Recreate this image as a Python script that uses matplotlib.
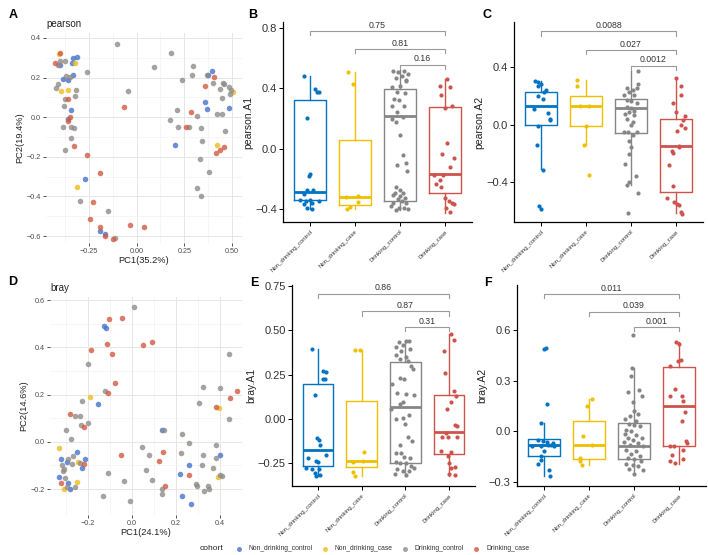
import matplotlib
matplotlib.use("Agg")
import matplotlib.pyplot as plt
from matplotlib.lines import Line2D
import numpy as np

plt.rcParams['font.family'] = ['Liberation Sans', 'DejaVu Sans']

groups = ["Non_drinking_control", "Non_drinking_case", "Drinking_control", "Drinking_case"]
box_colors = ['#0073C2', '#EFC000', '#868686', '#CD534C']
pt_colors = ['#4673CC', '#EFBC1F', '#8F8B89', '#D35A41']

# ---------------- PCoA pearson (panel A): (PC1, PC2) ----------------
A_pts = {
    "Non_drinking_control": [(-0.312, 0.306), (-0.333, 0.297), (-0.400, 0.264), (-0.338, 0.276), (-0.387, 0.195),
                             (-0.361, 0.189), (-0.334, 0.212), (-0.347, 0.035), (-0.361, -0.008), (-0.273, -0.312),
                             (-0.194, -0.574), (-0.167, -0.590), (0.396, 0.235), (0.373, 0.212), (0.359, 0.078),
                             (0.371, 0.043), (0.484, 0.048), (0.199, -0.139)],
    "Non_drinking_case": [(-0.408, 0.319), (-0.322, 0.276), (-0.396, 0.134), (-0.359, 0.135), (-0.313, -0.351),
                          (0.421, -0.140), (0.505, 0.129)],
    "Drinking_control": [(-0.102, 0.369), (0.180, 0.322), (0.092, 0.252), (0.296, 0.256), (0.238, 0.189),
                         (0.292, 0.212), (0.368, 0.212), (0.400, 0.172), (0.454, 0.172), (0.461, 0.169),
                         (0.484, 0.152), (0.436, 0.142), (0.496, 0.139), (0.489, 0.117), (0.449, 0.097),
                         (0.422, 0.017), (0.449, 0.017), (0.466, -0.070), (-0.400, 0.286), (-0.375, 0.284),
                         (-0.414, 0.264), (-0.370, 0.209), (-0.259, 0.230), (-0.414, 0.169), (-0.422, 0.147),
                         (-0.352, 0.202), (-0.317, 0.139), (-0.324, 0.107), (-0.378, 0.094), (-0.382, 0.058),
                         (-0.387, -0.048), (-0.347, -0.050), (-0.327, -0.057), (-0.347, -0.104), (-0.378, -0.167),
                         (-0.044, 0.130), (0.176, -0.012), (0.213, 0.038), (0.216, -0.050), (0.276, -0.050),
                         (0.317, 0.005), (0.340, -0.055), (0.341, -0.120), (0.334, -0.210), (0.378, -0.276),
                         (0.317, -0.356), (0.340, -0.399), (-0.299, -0.424), (-0.150, -0.474), (-0.114, -0.610)],
    "Drinking_case": [(-0.428, 0.276), (-0.401, 0.326), (0.405, 0.202), (0.361, 0.155), (-0.361, 0.092),
                      (-0.352, 0.002), (-0.361, -0.020), (-0.331, -0.145), (-0.260, -0.192), (-0.065, 0.052),
                      (-0.194, -0.282), (0.285, 0.028), (0.259, -0.047), (-0.227, -0.426), (-0.246, -0.513),
                      (-0.190, -0.556), (-0.167, -0.600), (-0.123, -0.616), (-0.035, -0.543), (0.039, -0.554),
                      (0.414, -0.182), (0.436, -0.167), (0.461, -0.150)],
}

# ---------------- PCoA bray (panel D) ----------------
D_pts = {
    "Non_drinking_control": [(-0.129, 0.492), (-0.117, 0.481), (-0.156, 0.161), (0.137, 0.052), (-0.322, -0.075),
                             (-0.296, -0.086), (-0.251, -0.044), (-0.213, -0.075), (-0.228, -0.113), (-0.289, -0.174),
                             (-0.281, -0.198), (-0.330, -0.150), (0.217, -0.135), (0.258, -0.100), (0.225, -0.230),
                             (0.266, -0.265), (0.399, -0.054)],
    "Non_drinking_case": [(-0.190, 0.189), (-0.330, -0.025), (-0.308, -0.199), (-0.251, -0.171), (-0.246, -0.085),
                          (0.395, 0.144), (0.390, -0.150)],
    "Drinking_control": [(0.011, 0.570), (-0.200, 0.330), (-0.125, 0.213), (-0.226, 0.171), (-0.258, 0.111),
                         (-0.236, 0.109), (-0.233, 0.073), (-0.200, 0.078), (-0.299, 0.049), (-0.278, 0.010),
                         (0.440, 0.373), (0.324, 0.233), (0.399, 0.227), (0.305, 0.165), (0.440, 0.095),
                         (0.144, 0.052), (0.228, 0.035), (0.258, -0.007), (0.046, -0.021), (0.076, -0.058),
                         (0.223, -0.047), (0.324, -0.055), (0.380, -0.014), (0.380, -0.068), (0.317, -0.100),
                         (0.369, -0.110), (0.064, -0.121), (0.091, -0.162), (-0.038, -0.165), (-0.109, -0.134),
                         (0.289, -0.178), (0.296, -0.188), (0.345, -0.188), (0.327, -0.209), (0.349, -0.199),
                         (0.137, -0.199), (0.134, -0.223), (-0.132, -0.230), (-0.008, -0.251), (0.399, -0.141),
                         (0.410, -0.145), (-0.319, -0.100), (-0.314, -0.124), (-0.292, -0.071), (-0.269, -0.061),
                         (-0.311, -0.114), (-0.307, -0.155), (-0.296, -0.192), (-0.261, -0.190), (-0.236, -0.089),
                         (-0.273, -0.092)],
    "Drinking_case": [(-0.106, 0.518), (-0.046, 0.525), (-0.188, 0.388), (-0.114, 0.416), (-0.091, 0.373),
                      (0.052, 0.408), (0.091, 0.423), (-0.079, 0.250), (-0.109, 0.205), (-0.283, 0.116),
                      (-0.217, 0.062), (-0.050, -0.058), (0.140, -0.042), (0.122, -0.082), (0.258, -0.141),
                      (0.152, -0.188), (-0.322, -0.174), (0.478, 0.213), (0.445, 0.185), (0.380, 0.148),
                      (-0.217, -0.093)],
}

# ---------------- Box panels: stats (q1, median, q3, lower whisker, upper whisker) ----------------
B_stats = {"Non_drinking_control": (-0.343, -0.290, 0.320, -0.400, 0.480),
           "Non_drinking_case": (-0.373, -0.320, 0.055, -0.404, 0.508),
           "Drinking_control": (-0.347, 0.219, 0.396, -0.409, 0.519),
           "Drinking_case": (-0.294, -0.166, 0.274, -0.427, 0.464)}
C_stats = {"Non_drinking_control": (0.000, 0.132, 0.225, -0.308, 0.306),
           "Non_drinking_case": (-0.009, 0.128, 0.199, -0.144, 0.313),
           "Drinking_control": (-0.058, 0.116, 0.179, -0.424, 0.369),
           "Drinking_case": (-0.471, -0.151, 0.039, -0.615, 0.322)}
E_stats = {"Non_drinking_control": (-0.267, -0.179, 0.197, -0.323, 0.397),
           "Non_drinking_case": (-0.273, -0.239, 0.100, -0.323, 0.391),
           "Drinking_control": (-0.252, 0.068, 0.320, -0.323, 0.442),
           "Drinking_case": (-0.197, -0.073, 0.132, -0.323, 0.479)}
F_stats = {"Non_drinking_control": (-0.148, -0.083, -0.045, -0.266, 0.049),
           "Non_drinking_case": (-0.164, -0.083, 0.059, -0.201, 0.191),
           "Drinking_control": (-0.164, -0.089, 0.049, -0.250, 0.374),
           "Drinking_case": (-0.085, 0.148, 0.380, -0.193, 0.526)}

# ---------------- Box panels: sample values ----------------
B_vals = {
    "Non_drinking_control": [0.484, 0.396, 0.376, 0.378, 0.203, -0.166, -0.183, -0.274, -0.272, -0.298, -0.338,
                             -0.345, -0.338, -0.369, -0.358, -0.347, -0.393, -0.398],
    "Non_drinking_case": [0.508, 0.429, -0.316, -0.320, -0.354, -0.404, -0.387],
    "Drinking_control": [0.517, 0.506, 0.513, 0.497, 0.484, 0.469, 0.457, 0.409, 0.418, 0.446, 0.378, 0.369,
                         0.332, 0.325, 0.281, 0.281, 0.241, 0.199, 0.210, 0.175, 0.093, -0.040, -0.111, -0.095,
                         -0.146, -0.254, -0.272, -0.305, -0.294, -0.329, -0.334, -0.360, -0.349, -0.360, -0.382,
                         -0.393, -0.393, -0.409, -0.398, -0.316, -0.294],
    "Drinking_case": [0.464, 0.418, 0.409, 0.358, 0.285, 0.270, 0.038, -0.033, -0.062, -0.122, -0.177, -0.177,
                      -0.206, -0.234, -0.254, -0.331, -0.345, -0.360, -0.365, -0.393, -0.422],
}
C_vals = {
    "Non_drinking_control": [0.306, 0.299, 0.283, 0.269, 0.237, 0.225, 0.195, 0.179, 0.109, 0.079, 0.039, 0.032,
                             -0.012, -0.139, -0.315, -0.570, -0.591],
    "Non_drinking_case": [0.313, 0.271, 0.128, 0.130, -0.144, -0.350, -0.009],
    "Drinking_control": [0.369, 0.283, 0.255, 0.253, 0.241, 0.225, 0.202, 0.202, 0.172, 0.167, 0.148, 0.125,
                         0.116, 0.090, 0.070, 0.063, 0.035, 0.000, -0.049, -0.053, -0.053, -0.072, -0.118,
                         -0.158, -0.204, -0.274, -0.355, -0.401, -0.424, -0.473, -0.615, 0.016, 0.097],
    "Drinking_case": [0.322, 0.271, 0.202, 0.151, 0.090, 0.056, 0.032, 0.000, -0.023, -0.046, -0.146, -0.158,
                      -0.186, -0.199, -0.285, -0.429, -0.510, -0.540, -0.552, -0.557, -0.610, -0.622],
}
E_vals = {
    "Non_drinking_control": [0.397, 0.269, 0.263, 0.226, 0.222, 0.137, -0.111, -0.122, -0.150, -0.207, -0.220,
                             -0.239, -0.244, -0.276, -0.282, -0.286, -0.305, -0.320, -0.323],
    "Non_drinking_case": [0.391, 0.391, -0.186, -0.239, -0.244, -0.299, -0.323],
    "Drinking_control": [0.442, 0.438, 0.432, 0.419, 0.406, 0.395, 0.382, 0.363, 0.350, 0.335, 0.325, 0.297,
                         0.282, 0.231, 0.222, 0.199, 0.143, 0.141, 0.137, 0.094, 0.081, 0.053, 0.024, 0.006,
                         0.000, -0.032, -0.103, -0.126, -0.149, -0.192, -0.192, -0.214, -0.220, -0.244, -0.252,
                         -0.252, -0.267, -0.276, -0.286, -0.295, -0.295, -0.314, -0.320],
    "Drinking_case": [0.479, 0.444, 0.382, 0.259, 0.156, 0.128, 0.096, 0.053, -0.038, -0.041, -0.079, -0.103,
                      -0.103, -0.103, -0.182, -0.188, -0.211, -0.252, -0.280, -0.273, -0.314, -0.320],
}
F_vals = {
    "Non_drinking_control": [0.489, 0.493, 0.162, 0.049, -0.049, -0.059, -0.065, -0.069, -0.083, -0.083, -0.085,
                             -0.085, -0.089, -0.118, -0.148, -0.193, -0.173, -0.232, -0.266],
    "Non_drinking_case": [0.191, 0.148, -0.026, -0.083, -0.158, -0.201, -0.177],
    "Drinking_control": [0.571, 0.374, 0.329, 0.242, 0.230, 0.211, 0.173, 0.118, 0.104, 0.089, 0.075, 0.059,
                         0.045, 0.035, 0.030, 0.010, 0.000, -0.016, -0.024, -0.039, -0.039, -0.049, -0.065,
                         -0.069, -0.079, -0.089, -0.108, -0.118, -0.132, -0.144, -0.158, -0.167, -0.177, -0.191,
                         -0.197, -0.207, -0.223, -0.227, -0.250],
    "Drinking_case": [0.526, 0.518, 0.384, 0.418, 0.424, 0.252, 0.207, 0.211, 0.181, 0.112, 0.059, -0.085,
                      -0.085, -0.059, -0.069, -0.108, -0.138, -0.164, -0.177, -0.187],
}

# ---------------- jitter offsets ----------------
B_jit = {
    "Non_drinking_control": [-0.13, 0.11, 0.16, 0.21, -0.07, 0.0, -0.03, -0.06, 0.06, -0.13, -0.22, -0.09, 0.0,
                             -0.13, 0.04, 0.21, -0.06, 0.04],
    "Non_drinking_case": [-0.15, -0.04, 0.06, -0.2, 0.07, -0.17, -0.11],
    "Drinking_control": [-0.16, -0.04, 0.08, 0.18, 0.04, -0.10, 0.13, -0.18, 0.01, 0.14, -0.06, 0.12, -0.13,
                         -0.02, -0.18, 0.08, -0.07, -0.18, 0.07, -0.10, 0.01, 0.06, -0.06, 0.14, 0.16, -0.10,
                         0.01, -0.16, 0.07, 0.12, -0.05, -0.16, 0.04, 0.14, -0.19, -0.02, 0.08, -0.10, 0.18,
                         0.01, -0.12],
    "Drinking_case": [0.05, -0.11, 0.11, -0.09, 0.15, 0.0, 0.05, -0.06, 0.19, 0.11, -0.24, -0.04, -0.11, -0.21,
                      -0.10, 0.01, 0.08, 0.15, 0.20, 0.02, 0.11],
}
C_jit = {
    "Non_drinking_control": [-0.13, -0.07, 0.0, -0.06, 0.11, 0.07, -0.06, 0.04, -0.16, 0.16, 0.19, 0.20, -0.07,
                             -0.08, 0.04, -0.04, 0.01],
    "Non_drinking_case": [-0.19, -0.19, -0.13, 0.06, -0.05, 0.07, 0.01],
    "Drinking_control": [0.15, 0.16, -0.10, 0.13, 0.05, -0.04, -0.16, 0.07, -0.10, 0.01, 0.14, -0.10, 0.01,
                         -0.04, -0.13, 0.07, -0.10, -0.01, -0.16, -0.06, 0.13, 0.05, -0.04, 0.0, -0.04, -0.13,
                         0.11, -0.04, -0.08, 0.16, -0.06, 0.04, 0.07],
    "Drinking_case": [0.01, 0.11, 0.11, -0.07, 0.01, 0.19, 0.16, 0.10, 0.19, 0.02, 0.07, 0.06, -0.09, -0.07,
                      -0.16, -0.07, -0.19, -0.05, 0.02, 0.06, 0.10, 0.13],
}
E_jit = {
    "Non_drinking_control": [-0.15, 0.11, 0.19, 0.10, 0.15, -0.08, -0.02, 0.02, 0.04, 0.19, -0.24, -0.05, 0.0,
                             -0.28, -0.15, 0.02, -0.08, 0.04, -0.05],
    "Non_drinking_case": [-0.16, -0.05, 0.05, 0.04, -0.21, -0.20, -0.15],
    "Drinking_control": [0.01, 0.08, -0.15, -0.05, -0.21, 0.10, -0.09, -0.22, 0.01, -0.13, 0.06, 0.14, 0.18,
                         -0.11, -0.02, -0.31, -0.18, 0.01, 0.20, -0.05, -0.13, -0.32, 0.08, -0.05, -0.21, 0.0,
                         0.06, 0.15, -0.13, -0.21, -0.09, -0.02, 0.10, -0.22, -0.11, 0.02, 0.14, 0.19, -0.18,
                         -0.05, 0.08, -0.24, 0.01],
    "Drinking_case": [0.05, 0.11, -0.10, -0.08, 0.11, 0.17, 0.05, -0.04, 0.13, 0.19, -0.06, -0.15, -0.01, 0.18,
                      -0.19, 0.05, -0.02, 0.0, 0.04, 0.15, 0.0, 0.13],
}
F_jit = {
    "Non_drinking_control": [0.0, 0.04, 0.06, -0.07, -0.14, -0.03, 0.07, 0.21, 0.16, 0.08, -0.07, -0.27, 0.22,
                             0.0, -0.07, -0.13, -0.07, 0.11, 0.13],
    "Non_drinking_case": [0.07, -0.04, -0.13, 0.07, -0.19, -0.16, -0.21],
    "Drinking_control": [-0.02, -0.04, -0.06, 0.11, -0.13, 0.18, -0.02, 0.0, 0.09, -0.08, -0.19, 0.05, -0.11,
                         -0.01, 0.13, -0.17, -0.06, -0.21, 0.05, -0.13, 0.18, -0.02, -0.23, 0.09, -0.10, 0.20,
                         -0.17, 0.04, -0.06, 0.13, -0.13, 0.01, 0.16, -0.17, -0.02, 0.09, -0.11, 0.19, -0.01],
    "Drinking_case": [-0.07, 0.0, -0.21, -0.02, 0.04, -0.08, -0.19, 0.07, 0.09, 0.13, 0.06, -0.19, -0.11, 0.15,
                      0.17, 0.09, -0.16, 0.09, -0.19, -0.10],
}

# ---------------- significance labels (comparison vs Drinking_case) ----------------
B_p = ["0.75", "0.81", "0.16"]
C_p = ["0.0088", "0.027", "0.0012"]
E_p = ["0.86", "0.87", "0.31"]
F_p = ["0.011", "0.039", "0.001"]
B_py = [0.782, 0.661, 0.557]
C_py = [0.647, 0.519, 0.410]
E_py = [0.707, 0.607, 0.519]
F_py = [0.814, 0.709, 0.617]

W, H = 708, 555
fig = plt.figure(figsize=(W / 100, H / 100), dpi=100)


def ax_px(l, t, r, b):
    return fig.add_axes([l / W, 1 - b / H, (r - l) / W, (b - t) / H])


def fmt(v, d):
    s = f"{abs(v):.{d}f}"
    return ("\u2212" + s) if v < 0 else s


def pcoa(ax, data, xlim, ylim, xt, yt, xminor, yminor, xd, yd, xlabel, ylabel, title):
    for g, c in zip(groups, pt_colors):
        p = np.array(data[g])
        ax.scatter(p[:, 0], p[:, 1], s=16, color=c, alpha=0.8, lw=0, zorder=3)
    ax.set_xlim(*xlim)
    ax.set_ylim(*ylim)
    ax.set_xticks(xt)
    ax.set_xticklabels([fmt(v, xd) for v in xt])
    ax.set_yticks(yt)
    ax.set_yticklabels([fmt(v, yd) for v in yt])
    ax.set_xticks(xminor, minor=True)
    ax.set_yticks(yminor, minor=True)
    ax.grid(which='major', color='#E6E6E6', lw=0.7, zorder=0)
    ax.grid(which='minor', color='#F0F0F0', lw=0.4, zorder=0)
    ax.set_axisbelow(True)
    for s in ax.spines.values():
        s.set_visible(False)
    ax.tick_params(which='major', length=2, width=0.6, color='#333333', labelsize=5.2,
                   labelcolor='#4D4D4D', pad=1.5)
    ax.tick_params(which='minor', length=0)
    ax.set_xlabel(xlabel, fontsize=6.7, color='#222222', labelpad=1)
    ax.set_ylabel(ylabel, fontsize=6.7, color='#222222', labelpad=2)
    ax.set_title(title, loc='left', fontsize=7, color='#222222', pad=4)


def boxpanel(ax, stats, vals, jit, ylim, yt, yd, ylabel, plabels, pys):
    for i, g in enumerate(groups):
        q1, med, q3, lo, hi = stats[g]
        c = box_colors[i]
        ax.bxp([dict(med=med, q1=q1, q3=q3, whislo=lo, whishi=hi, fliers=[])], positions=[i + 1],
               widths=0.7, showcaps=False, showfliers=False, manage_ticks=False,
               boxprops=dict(color=c, lw=1.0), whiskerprops=dict(color=c, lw=1.0),
               medianprops=dict(color=c, lw=2.0, solid_capstyle='butt'))
        ax.scatter(i + 1 + np.array(jit[g]), vals[g], s=9, color=c, lw=0, zorder=4)
    ax.set_xlim(0.4, 4.6)
    ax.set_ylim(*ylim)
    yr = ylim[1] - ylim[0]
    dtick = yr * 0.022
    for (x1, lab, y) in zip([1, 2, 3], plabels, pys):
        ax.plot([x1, x1, 4, 4], [y - dtick, y, y, y - dtick], color='#9A9A9A', lw=0.8, zorder=2)
        ax.text((x1 + 4) / 2, y + yr * 0.006, lab, ha='center', va='bottom', fontsize=6.3, color='#333333')
    ax.set_yticks(yt)
    ax.set_yticklabels([fmt(v, yd) for v in yt])
    ax.set_xticks([1, 2, 3, 4])
    ax.set_xticklabels(groups, rotation=45, ha='right', va='top', rotation_mode='anchor', fontsize=4.3,
                       color='#333333')
    ax.tick_params(axis='y', length=3, width=0.7, labelsize=8, labelcolor='#333333', pad=1.5)
    ax.tick_params(axis='x', length=3, width=0.7, pad=2)
    for s in ['top', 'right']:
        ax.spines[s].set_visible(False)
    for s in ['left', 'bottom']:
        ax.spines[s].set_linewidth(0.9)
    ax.set_ylabel(ylabel, fontsize=7.5, color='#222222', labelpad=1)


axA = ax_px(46, 33, 242, 243)
pcoa(axA, A_pts, (-0.476, 0.553), (-0.635, 0.425), [-0.25, 0, 0.25, 0.5], [-0.6, -0.4, -0.2, 0, 0.2, 0.4],
     [-0.375, -0.125, 0.125, 0.375], [-0.5, -0.3, -0.1, 0.1, 0.3], 2, 1, "PC1(35.2%)", "PC2(19.4%)", "pearson")

axD = ax_px(50, 297, 242, 515)
pcoa(axD, D_pts, (-0.373, 0.5), (-0.31, 0.613), [-0.2, 0, 0.2, 0.4], [-0.2, 0, 0.2, 0.4, 0.6],
     [-0.3, -0.1, 0.1, 0.3], [-0.1, 0.1, 0.3, 0.5], 1, 1, "PC1(24.1%)", "PC2(14.6%)", "bray")

axB = ax_px(283, 22, 472, 222)
boxpanel(axB, B_stats, B_vals, B_jit, (-0.487, 0.84), [-0.4, 0, 0.4, 0.8], 1, "pearson.A1", B_p, B_py)
axC = ax_px(514, 22, 703, 222)
boxpanel(axC, C_stats, C_vals, C_jit, (-0.678, 0.713), [-0.4, 0, 0.4], 1, "pearson.A2", C_p, C_py)
axE = ax_px(292, 285, 475, 486)
boxpanel(axE, E_stats, E_vals, E_jit, (-0.38, 0.756), [-0.25, 0, 0.25, 0.5, 0.75], 2, "bray.A1", E_p, E_py)
axF = ax_px(517, 285, 706, 486)
boxpanel(axF, F_stats, F_vals, F_jit, (-0.324, 0.866), [-0.3, 0, 0.3, 0.6], 1, "bray.A2", F_p, F_py)

for lab, x, y in [("A", 13, 15), ("B", 253, 15), ("C", 487, 15), ("D", 13, 282), ("E", 254, 283), ("F", 488, 283)]:
    fig.text(x / W, 1 - y / H, lab, fontsize=9, fontweight='bold', ha='center', va='center')

# legend: laid out left to right with measured text widths
ly = 1 - 549 / H
renderer = fig.canvas.get_renderer()
cx = 200.0
t = fig.text(cx / W, ly, "cohort", fontsize=6, color='#222222', va='center', ha='left')
cx += t.get_window_extent(renderer).width + 15
for g, c in zip(groups, pt_colors):
    fig.add_artist(Line2D([cx / W], [ly], marker='o', ms=3.6, color=c, alpha=0.8, ls='', mew=0,
                          transform=fig.transFigure))
    cx += 10
    t = fig.text(cx / W, ly, g, fontsize=4.9, color='#333333', va='center', ha='left')
    cx += t.get_window_extent(renderer).width + 12

fig.savefig("out.png", dpi=100)
